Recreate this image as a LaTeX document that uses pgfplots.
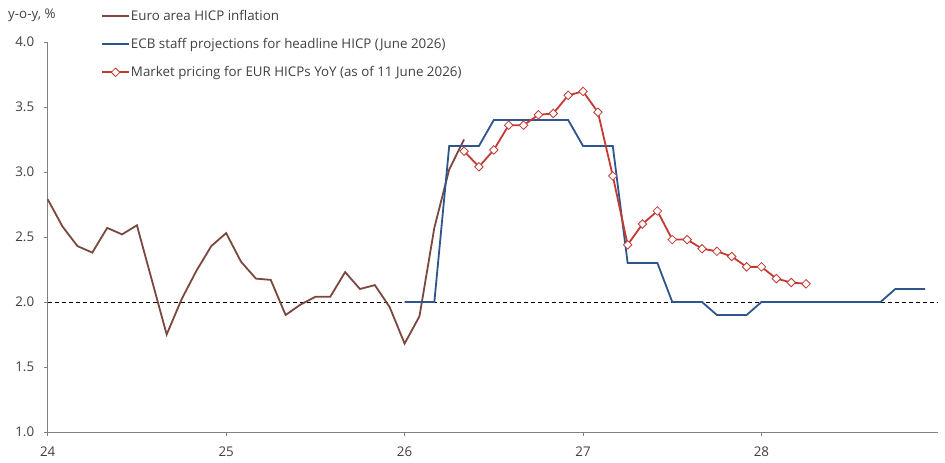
\documentclass[border=0pt]{standalone}
\usepackage{fontspec}
\setmainfont{Open Sans}
\usepackage{pgfplots}
\pgfplotsset{compat=1.18}
\definecolor{hicp}{RGB}{122,72,62}
\definecolor{ecb}{RGB}{47,86,140}
\definecolor{mkt}{RGB}{196,58,50}
\definecolor{axgray}{RGB}{128,128,128}
\definecolor{txt}{RGB}{64,64,64}
\newcommand{\chartfont}{\fontsize{13.4}{16}\selectfont}
\begin{document}
\begin{tikzpicture}
\useasboundingbox (-47.7bp,-30.7bp) rectangle (897.3bp,432bp);
\begin{axis}[
  at={(0,0)}, anchor=south west,
  scale only axis, width=890bp, height=390bp,
  xmin=0, xmax=59.85, ymin=1, ymax=4,
  axis x line*=bottom, axis y line*=left,
  axis line style={axgray, line width=0.8bp},
  xtick={0,12,24,36,48}, xticklabels={24,25,26,27,28},
  ytick={1,1.5,2,2.5,3,3.5,4},
  tick align=outside, major tick length=4bp,
  tick style={axgray, line width=0.8bp},
  /pgf/number format/assume math mode=true,
  yticklabel style={/pgf/number format/fixed, /pgf/number format/fixed zerofill, /pgf/number format/precision=1, xshift=-6bp},
  xticklabel style={yshift=-7bp},
  ticklabel style={font=\chartfont, text=txt},
  legend style={at={(axis description cs:0.0565,1.09)}, anchor=north west, draw=none, fill=none,
    font=\chartfont, text=txt, row sep=14.5bp,
    nodes={inner sep=1pt}},
  legend cell align=left,
  legend image code/.code={\draw[mark repeat=2,mark phase=2,#1] plot coordinates {(0bp,0bp) (13.5bp,0bp) (27bp,0bp)};},
  clip=false,
]
\addplot[black, line width=0.6bp, dash pattern=on 4bp off 3bp, forget plot] coordinates {(0,2) (59.85,2)};
\addplot[hicp, line width=1.8bp] coordinates {
(0,2.79) (1,2.58) (2,2.43) (3,2.38) (4,2.57) (5,2.52) (6,2.59) (7,2.17) (8,1.75) (9,2.02)
(10,2.24) (11,2.43) (12,2.53) (13,2.31) (14,2.18) (15,2.17) (16,1.90) (17,1.98) (18,2.04) (19,2.04)
(20,2.23) (21,2.10) (22,2.13) (23,1.96) (24,1.68) (25,1.89) (26,2.57) (27,3.02) (28,3.25)};
\addlegendentry{Euro area HICP inflation}
\addplot[ecb, line width=1.8bp] coordinates {
(24,2.0) (25,2.0) (26,2.0) (27,3.2) (28,3.2) (29,3.2) (30,3.4) (31,3.4) (32,3.4) (33,3.4) (34,3.4) (35,3.4)
(36,3.2) (37,3.2) (38,3.2) (39,2.3) (40,2.3) (41,2.3) (42,2.0) (43,2.0) (44,2.0) (45,1.9) (46,1.9) (47,1.9)
(48,2.0) (49,2.0) (50,2.0) (51,2.0) (52,2.0) (53,2.0) (54,2.0) (55,2.0) (56,2.0) (57,2.1) (58,2.1) (59,2.1)};
\addlegendentry{ECB staff projections for headline HICP (June 2026)}
\addplot[mkt, line width=1.8bp, mark=square*, mark size=3bp,
  mark options={rotate=45, fill=white, draw=mkt, line width=0.8bp, solid}] coordinates {
(28,3.16) (29,3.04) (30,3.17) (31,3.36) (32,3.36) (33,3.44) (34,3.45) (35,3.59) (36,3.62) (37,3.46)
(38,2.97) (39,2.44) (40,2.60) (41,2.70) (42,2.48) (43,2.48) (44,2.41) (45,2.39) (46,2.35) (47,2.27)
(48,2.27) (49,2.18) (50,2.15) (51,2.14)};
\addlegendentry{Market pricing for EUR HICPs YoY (as of 11 June 2026)}
\node[anchor=west, inner sep=0pt, font=\chartfont, text=txt] at (axis description cs:-0.0446,1.069) {y-o-y, \%};
\end{axis}
\end{tikzpicture}
\end{document}
